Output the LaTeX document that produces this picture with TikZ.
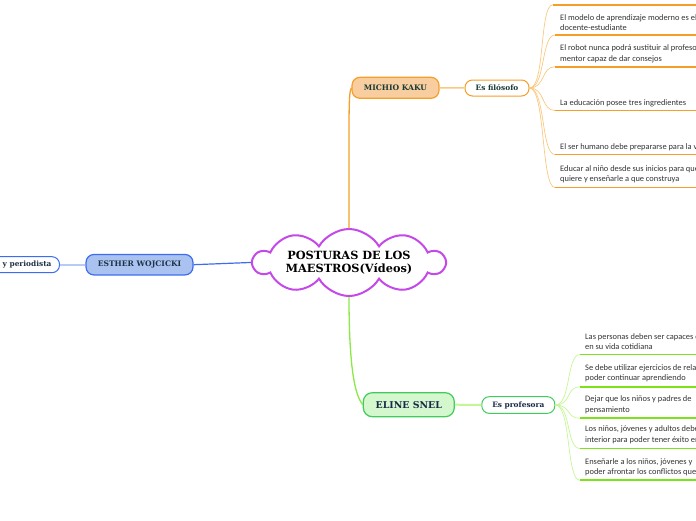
\documentclass[tikz,border=0pt]{standalone}
\usepackage{fontspec}
\setmainfont{DejaVu Serif}
\newfontfamily\leaffont{Carlito}
\usetikzlibrary{shapes.symbols,calc}
\definecolor{cpurple}{RGB}{197,72,232}
\definecolor{corange}{RGB}{245,158,40}
\definecolor{corangefill}{RGB}{248,206,160}
\definecolor{corangelight}{RGB}{251,200,128}
\definecolor{cblue}{RGB}{60,108,240}
\definecolor{cbluefill}{RGB}{170,194,240}
\definecolor{cbluelight}{RGB}{184,202,246}
\definecolor{cgreen}{RGB}{64,204,92}
\definecolor{cgreenfill}{RGB}{212,247,205}
\definecolor{clime}{RGB}{140,232,70}
\definecolor{climelight}{RGB}{196,246,150}
\definecolor{climedark}{RGB}{126,226,26}
\definecolor{ctext}{RGB}{24,58,52}
\definecolor{cleaf}{RGB}{51,51,51}
\begin{document}
\begin{tikzpicture}[x=1pt,y=-1pt,
  central/.style={cloud, cloud puffs=10, cloud puff arc=120, cloud ignores aspect, draw=cpurple, line width=2pt, fill=white,
    inner sep=0pt, minimum width=191pt, minimum height=67pt, align=center, text=black,
    font=\bfseries\fontsize{11.3}{13.5}\selectfont},
  mainbox/.style={rectangle, rounded corners=8pt, line width=1.2pt, inner sep=0pt, text=ctext,
    font=\bfseries\fontsize{7.6}{9}\selectfont},
  subbox/.style={rectangle, rounded corners=7.5pt, line width=1pt, fill=white, inner sep=0pt, text=ctext,
    minimum height=16pt, font=\bfseries\fontsize{7.4}{9}\selectfont},
  leaf/.style={anchor=south west, inner sep=0pt, align=left, text=cleaf,
    font=\leaffont\fontsize{8.4}{10.5}\selectfont},
  oconn/.style={draw=corangelight, line width=0.7pt},
  oline/.style={draw=corange, line width=1.8pt},
  gconn/.style={draw=climelight, line width=0.7pt},
  gline/.style={draw=climedark, line width=1.8pt}]
\useasboundingbox (0,0) rectangle (696,520);
\clip (0,0) rectangle (696,520);
\coordinate (edge) at (700,0);

% central
\node[central] (c) at (349,262.5) {POSTURAS DE LOS\\MAESTROS(Vídeos)};

% main nodes
\node[mainbox, draw=corange, fill=corangefill, minimum width=87pt, minimum height=21pt] (m) at (395.5,87.8) {MICHIO KAKU};
\node[mainbox, draw=cblue, fill=cbluefill, minimum width=107pt, minimum height=20.5pt, text={rgb,255:red,30;green,50;blue,70}] (e) at (139.5,264.7) {ESTHER WOJCICKI};
\node[mainbox, draw=cgreen, fill=cgreenfill, minimum width=91pt, minimum height=24pt, rounded corners=9pt, text={rgb,255:red,24;green,40;blue,70}, font=\bfseries\fontsize{9.4}{11}\selectfont] (s) at (408.8,404.7) {ELINE SNEL};

% sub nodes
\node[subbox, draw=corange, minimum width=64pt] (f) at (497,88) {Es filósofo};
\node[subbox, draw=cblue, anchor=east, minimum height=16pt, inner xsep=8pt, text={rgb,255:red,30;green,50;blue,70}] (p) at (60,264.7) {Es profesora y periodista};
\node[subbox, draw=cgreen, minimum width=73pt, minimum height=16.7pt, text={rgb,255:red,24;green,40;blue,70}] (r) at (518.3,405) {Es profesora};

% main connectors
\draw[corange, line width=1.3pt] (c.north) .. controls ($(c.north)+(0,-120)$) and ($(m.west)+(-3,6)$) .. (m.west);
\draw[cblue, line width=1.2pt] (c.west) -- (e.east);
\draw[clime, line width=1.3pt] (c.south) .. controls ($(c.south)+(0,90)$) and ($(s.west)+(-4,-6)$) .. (s.west);

% sub connectors
\draw[corangelight, line width=1.5pt] (m.east) -- (f.west);
\draw[cbluelight, line width=2pt] (e.west) -- (p.east);
\draw[climelight, line width=2pt] (s.east) -- (r.west);

% orange leaves
\coordinate (o1) at (553,4.7);
\coordinate (o2) at (555,35);
\coordinate (o3) at (555,66.7);
\coordinate (o4) at (555,110.5);
\coordinate (o5) at (555,154.5);
\coordinate (o6) at (555,187.5);
\node[leaf] (ot2) at (560,31) {El modelo de aprendizaje moderno es el\\docente-estudiante};
\node[leaf] (ot3) at (560,62.8) {El robot nunca podrá sustituir al profesor\\mentor capaz de dar consejos};
\node[leaf] (ot4) at (560,106.8) {La educación posee tres ingredientes};
\node[leaf] (ot5) at (560,151.5) {El ser humano debe prepararse para la vida};
\node[leaf] (ot6) at (560,183.5) {Educar al niño desde sus inicios para que\\quiere y enseñarle a que construya};
\foreach \i in {1,...,6}{
  \draw[oconn] (f.east) .. controls ($(f.east)+(16,0)$) and ($(o\i)+(-14,0)$) .. (o\i);
  \draw[oline] (o\i) -- (o\i -| edge);
}

% green leaves
\coordinate (g1) at (580,354.5);
\coordinate (g2) at (580,386.7);
\coordinate (g3) at (580,418.3);
\coordinate (g4) at (580,448.5);
\coordinate (g5) at (580,480.3);
\node[leaf] (gt1) at (585,350) {Las personas deben ser capaces de\\en su vida cotidiana};
\node[leaf] (gt2) at (585,382.2) {Se debe utilizar ejercicios de relajación\\poder continuar aprendiendo};
\node[leaf] (gt3) at (585,413.8) {Dejar que los niños y padres de\\pensamiento};
\node[leaf] (gt4) at (585,444) {Los niños, jóvenes y adultos deben\\interior para poder tener éxito en};
\node[leaf] (gt5) at (585,476.3) {Enseñarle a los niños, jóvenes y\\poder afrontar los conflictos que};
\foreach \i in {1,...,5}{
  \draw[gconn] (r.east) .. controls ($(r.east)+(16,0)$) and ($(g\i)+(-14,0)$) .. (g\i);
  \draw[gline] (g\i) -- (g\i -| edge);
}
\end{tikzpicture}
\end{document}
